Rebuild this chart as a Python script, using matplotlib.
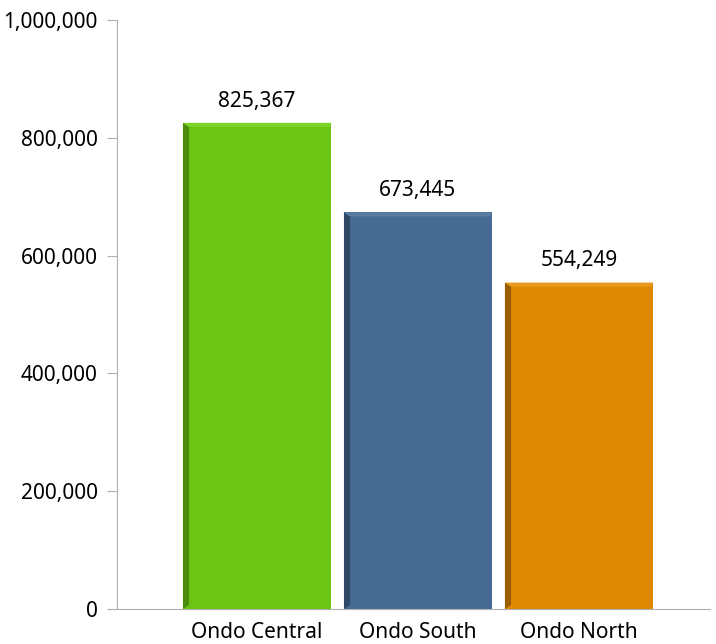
import matplotlib.pyplot as plt
from matplotlib.patches import Polygon

districts = ['Ondo Central', 'Ondo South', 'Ondo North']
population = [825367, 673445, 554249]
face_colors = ['#6cc414', '#476a93', '#dd8800']
side_colors = ['#4b8c0c', '#2e4866', '#9a5d00']
top_colors = ['#7fd42a', '#5a7ca3', '#e89a20']

plt.rcParams['font.family'] = ['Noto Sans', 'DejaVu Sans']

fig = plt.figure(figsize=(7.16, 6.44), dpi=100)
ax = fig.add_axes([117 / 716, 1 - 609 / 644, (710 - 117) / 716, 589 / 644])

width = 0.92
x = list(range(len(districts)))
ax.bar(x, population, width=width, color=face_colors, zorder=2)

# bevel on the left side and top of each bar
dx = 0.038
dy = 7000
for xi, val, sc, tc in zip(x, population, side_colors, top_colors):
    left = xi - width / 2
    right = xi + width / 2
    ax.add_patch(Polygon([(left, 0), (left + dx, dy), (left + dx, val - dy), (left, val)],
                         closed=True, color=sc, zorder=3, lw=0))
    ax.add_patch(Polygon([(left, val), (left + dx, val - dy), (right - 0.01, val - dy), (right, val)],
                         closed=True, color=tc, zorder=3, lw=0))
    ax.text(xi, val + 19000, f'{val:,}', ha='center', va='bottom', fontsize=15)

ax.set_xlim((117 - 257) / 161, (710 - 257) / 161)
ax.set_ylim(0, 1000000)
ax.set_yticks(range(0, 1000001, 200000))
ax.set_yticklabels([f'{v:,}' for v in range(0, 1000001, 200000)], fontsize=15)
ax.set_xticks(x)
ax.set_xticklabels(districts, fontsize=15)
ax.tick_params(axis='x', length=0, pad=9)
ax.tick_params(axis='y', length=7, color='#b0b0b0', pad=7)

for side in ['top', 'right']:
    ax.spines[side].set_visible(False)
for side in ['left', 'bottom']:
    ax.spines[side].set_color('#b0b0b0')

plt.savefig('out.png', dpi=100)
